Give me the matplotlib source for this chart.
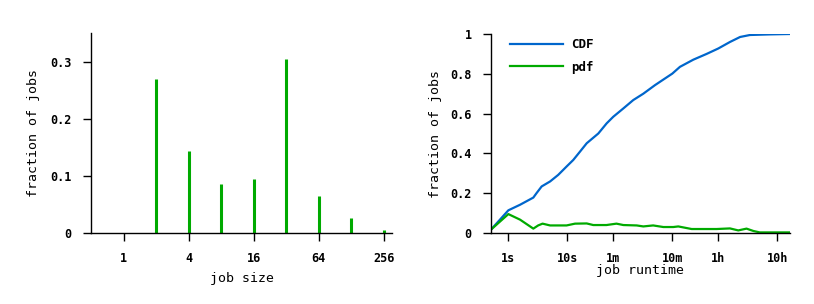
import matplotlib
matplotlib.use("Agg")
import matplotlib.pyplot as plt
from matplotlib.ticker import FixedLocator, NullLocator

# job size histogram
job_sizes = [2, 4, 8, 16, 32, 64, 128, 256]
size_frac = [0.270, 0.144, 0.086, 0.095, 0.304, 0.065, 0.026, 0.005]
size_ticks = [1, 4, 16, 64, 256]
size_tick_labels = ["1", "4", "16", "64", "256"]

# job runtime, seconds
cdf_t = [0.508, 1.0, 1.58, 2.65, 3.0, 3.67, 5.1, 7.0, 9.7, 12.6, 16.4, 21.3,
         33.5, 46.4, 60, 89, 131, 194, 306, 424, 602, 811, 1367, 2300, 3610,
         5720, 8480, 12470, 27200, 59400]
cdf_v = [0.017, 0.114, 0.142, 0.178, 0.20, 0.234, 0.259, 0.292, 0.334, 0.367,
         0.409, 0.451, 0.50, 0.551, 0.584, 0.626, 0.668, 0.70, 0.743, 0.771,
         0.801, 0.835, 0.871, 0.90, 0.927, 0.96, 0.985, 0.995, 0.998, 1.0]
pdf_t = [0.508, 1.0, 1.58, 2.65, 3.2, 3.8, 5.1, 9.7, 13.5, 21.3, 27.5, 46,
         68, 89, 150, 194, 285, 424, 625, 760, 1280, 3400, 5720, 7900, 10900,
         14300, 18300, 59400]
pdf_v = [0.017, 0.095, 0.067, 0.022, 0.038, 0.047, 0.038, 0.038, 0.047, 0.048,
         0.040, 0.040, 0.047, 0.040, 0.038, 0.033, 0.038, 0.030, 0.030, 0.033,
         0.020, 0.020, 0.023, 0.013, 0.022, 0.010, 0.003, 0.003]
time_ticks = [1, 10, 60, 600, 3600, 36000]
time_tick_labels = ["1s", "10s", "1m", "10m", "1h", "10h"]

BLUE = "#0066cc"
GREEN = "#00aa00"
MONO = "DejaVu Sans Mono"

plt.rcParams["font.family"] = MONO
plt.rcParams["axes.linewidth"] = 1.0

fig = plt.figure(figsize=(8.14, 3.04), dpi=100)
W, H = 814, 304


def style_axes(ax):
    ax.spines["top"].set_visible(False)
    ax.spines["right"].set_visible(False)
    ax.tick_params(direction="out", length=6, width=1, pad=8, labelsize=8.5)
    for lab in ax.get_xticklabels() + ax.get_yticklabels():
        lab.set_fontweight("bold")
    ax.xaxis.set_minor_locator(NullLocator())
    ax.set_ylabel("fraction of jobs", fontsize=9.5)


# left panel
ax1 = fig.add_axes([91 / W, (H - 233) / H, 301 / W, 200 / H])
ax1.vlines(job_sizes, 0, size_frac, color=GREEN, linewidth=2.2)
ax1.set_xscale("log", base=2)
ax1.set_xlim(2 ** -1.0, 2 ** 8.25)
ax1.set_ylim(0, 0.35)
ax1.xaxis.set_major_locator(FixedLocator(size_ticks))
ax1.set_xticklabels(size_tick_labels)
ax1.set_yticks([0, 0.1, 0.2, 0.3])
ax1.set_yticklabels(["0", "0.1", "0.2", "0.3"])
ax1.set_xlabel("job size", fontsize=9.5, labelpad=5)
style_axes(ax1)
ax1.yaxis.set_label_coords(-0.169, 0.5)

# right panel
ax2 = fig.add_axes([491 / W, (H - 233) / H, 299 / W, 199 / H])
ax2.plot(cdf_t, cdf_v, color=BLUE, linewidth=1.6, label="CDF")
ax2.plot(pdf_t, pdf_v, color=GREEN, linewidth=1.6, label="pdf")
ax2.set_xscale("log")
ax2.set_xlim(0.508, 59500)
ax2.set_ylim(0, 1.0)
ax2.xaxis.set_major_locator(FixedLocator(time_ticks))
ax2.set_xticklabels(time_tick_labels)
ax2.set_yticks([0, 0.2, 0.4, 0.6, 0.8, 1.0])
ax2.set_yticklabels(["0", "0.2", "0.4", "0.6", "0.8", "1"])
ax2.set_xlabel("job runtime", fontsize=9.5, labelpad=-1)
style_axes(ax2)
ax2.yaxis.set_label_coords(-0.164, 0.5)

leg = ax2.legend(loc="upper left", bbox_to_anchor=(0.025, 1.035), frameon=False,
                 handlelength=4.3, handletextpad=0.6, labelspacing=0.75,
                 prop={"family": MONO, "weight": "bold", "size": 9})

fig.savefig("out.png", dpi=100)
